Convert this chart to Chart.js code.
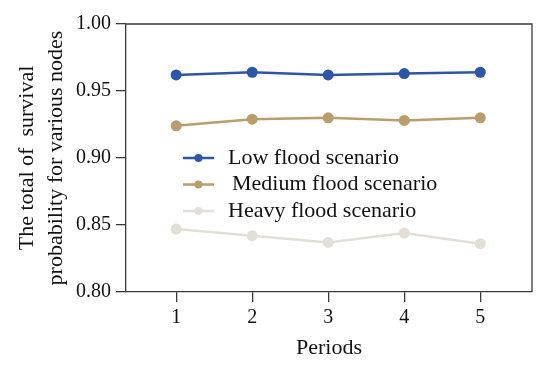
<!DOCTYPE html>
<html>
<head>
<meta charset="utf-8">
<script src="https://cdn.jsdelivr.net/npm/chart.js@4"></script>
<style>
  html, body { margin: 0; padding: 0; background: #fff; }
  #wrap { width: 550px; height: 366px; }
</style>
</head>
<body>
<div id="wrap"><canvas id="c"></canvas></div>
<script>
// data
const periods = [1, 2, 3, 4, 5];
const lowFlood = [0.962, 0.964, 0.962, 0.963, 0.964];
const mediumFlood = [0.924, 0.929, 0.930, 0.928, 0.930];
const heavyFlood = [0.847, 0.842, 0.837, 0.844, 0.836];
const seriesNames = ['Low flood scenario', 'Medium flood scenario', 'Heavy flood scenario'];
const yTicks = [0.80, 0.85, 0.90, 0.95, 1.00];

const colors = ['#2d56a9', '#b99d6c', '#e3dfd6'];
const serif = "'Liberation Serif', 'Times New Roman', serif";
const axisColor = '#3a3a3a';

const toPoints = vals => vals.map((v, i) => ({ x: periods[i], y: v }));

// legend drawn inside the plot area
const innerLegend = {
    id: 'innerLegend',
    afterDatasetsDraw(chart) {
        const ctx = chart.ctx;
        const x0 = 183, rowY = [158, 184.5, 211];
        ctx.save();
        chart.data.datasets.forEach((ds, i) => {
            const y = rowY[i];
            ctx.strokeStyle = ds.borderColor;
            ctx.lineWidth = 2.5;
            ctx.beginPath();
            ctx.moveTo(x0, y);
            ctx.lineTo(x0 + 31, y);
            ctx.stroke();
            ctx.fillStyle = ds.borderColor;
            ctx.beginPath();
            ctx.arc(x0 + 15.5, y, 4, 0, Math.PI * 2);
            ctx.fill();
            ctx.fillStyle = '#111';
            ctx.font = '22px ' + serif;
            ctx.textBaseline = 'middle';
            ctx.fillText(ds.label, x0 + 45 + (i === 1 ? 4 : 0), y);
        });
        ctx.restore();
    }
};

// top and right edges of the box
const frame = {
    id: 'frame',
    afterDraw(chart) {
        const { left, right, top, bottom } = chart.chartArea;
        const ctx = chart.ctx;
        ctx.save();
        ctx.strokeStyle = axisColor;
        ctx.lineWidth = 1.3;
        ctx.beginPath();
        ctx.moveTo(left, top);
        ctx.lineTo(right, top);
        ctx.lineTo(right, bottom);
        ctx.stroke();
        ctx.restore();
    }
};

const makeSet = (label, vals, color) => ({
    label: label,
    data: toPoints(vals),
    borderColor: color,
    backgroundColor: color,
    borderWidth: 2.5,
    pointRadius: 5.5,
    pointHoverRadius: 5.5,
    pointBorderWidth: 0,
    tension: 0
});

new Chart(document.getElementById('c'), {
    type: 'line',
    data: {
        datasets: [
            makeSet(seriesNames[0], lowFlood, colors[0]),
            makeSet(seriesNames[1], mediumFlood, colors[1]),
            makeSet(seriesNames[2], heavyFlood, colors[2])
        ]
    },
    options: {
        responsive: true,
        maintainAspectRatio: false,
        animation: false,
        layout: { padding: { top: 24, right: 18, left: 0, bottom: 0 } },
        plugins: {
            legend: { display: false },
            tooltip: { enabled: false }
        },
        scales: {
            x: {
                type: 'linear',
                min: 0.34,
                max: 5.68,
                afterBuildTicks: scale => { scale.ticks = periods.map(v => ({ value: v })); },
                afterFit: scale => { scale.height = 74; },
                grid: { display: true, drawOnChartArea: false, drawTicks: true, tickLength: 10, color: axisColor, lineWidth: 1.3 },
                border: { display: true, color: axisColor, width: 1.3 },
                ticks: { color: '#111', font: { family: serif, size: 20 }, padding: 4, maxRotation: 0 },
                title: { display: true, text: 'Periods', color: '#111', font: { family: serif, size: 22 }, padding: { top: 0, bottom: 5 } }
            },
            y: {
                min: 0.8,
                max: 1.0,
                afterBuildTicks: scale => { scale.ticks = yTicks.map(v => ({ value: v })); },
                afterFit: scale => { scale.width = 126; },
                grid: { display: true, drawOnChartArea: false, drawTicks: true, tickLength: 10, color: axisColor, lineWidth: 1.3 },
                border: { display: true, color: axisColor, width: 1.3 },
                ticks: { color: '#111', font: { family: serif, size: 20 }, padding: 5, callback: v => v.toFixed(2) },
                title: {
                    display: true,
                    text: ['The total of  survival', 'probability for various nodes'],
                    color: '#111',
                    font: { family: serif, size: 22, lineHeight: 29 / 22 },
                    padding: { top: 13, bottom: 0 }
                }
            }
        }
    },
    plugins: [innerLegend, frame]
});
</script>
</body>
</html>
